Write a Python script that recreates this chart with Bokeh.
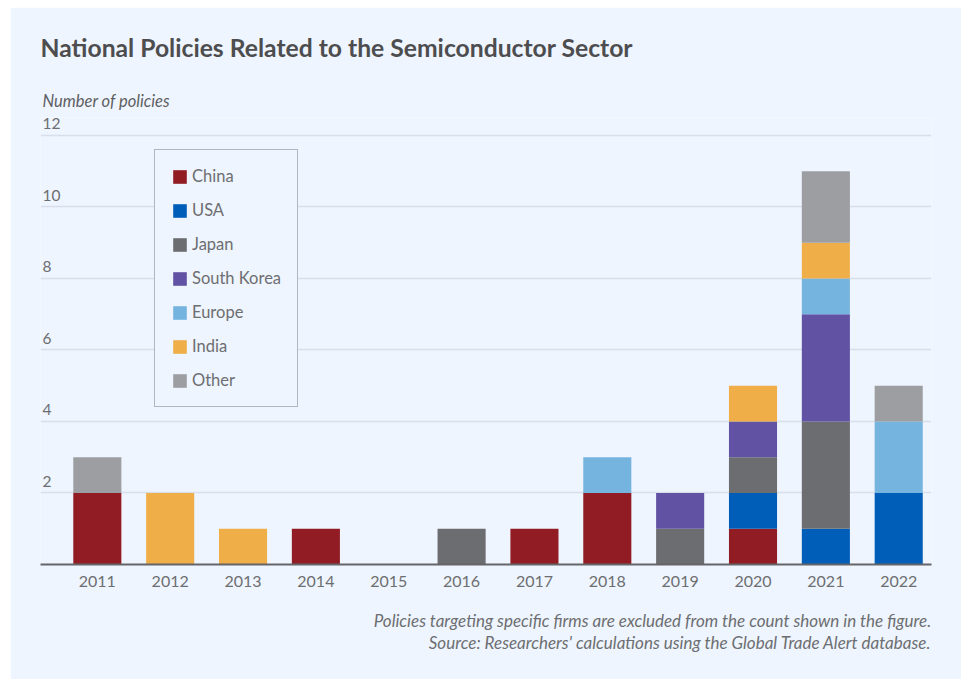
from bokeh.plotting import figure
from bokeh.models import ColumnDataSource, Legend, LegendItem, Title, FixedTicker, Range1d
from bokeh.core.properties import value
from bokeh.embed import file_html
from bokeh.resources import INLINE

years = ["2011", "2012", "2013", "2014", "2015", "2016", "2017", "2018", "2019", "2020", "2021", "2022"]
china       = [2, 0, 0, 1, 0, 0, 1, 2, 0, 1, 0, 0]
usa         = [0, 0, 0, 0, 0, 0, 0, 0, 0, 1, 1, 2]
japan       = [0, 0, 0, 0, 0, 1, 0, 0, 1, 1, 3, 0]
south_korea = [0, 0, 0, 0, 0, 0, 0, 0, 1, 1, 3, 0]
europe      = [0, 0, 0, 0, 0, 0, 0, 1, 0, 0, 1, 2]
india       = [0, 2, 1, 0, 0, 0, 0, 0, 0, 1, 1, 0]
other       = [1, 0, 0, 0, 0, 0, 0, 0, 0, 0, 2, 1]
series_names = ["China", "USA", "Japan", "South Korea", "Europe", "India", "Other"]
series_colors = ["#921c24", "#005eb8", "#6c6d70", "#6152a3", "#76b4e0", "#efae48", "#9d9ea2"]
y_ticks = [2, 4, 6, 8, 10, 12]
footer_lines = ["Policies targeting specific firms are excluded from the count shown in the figure.",
                "Source: Researchers' calculations using the Global Trade Alert database."]

FONT = "Lato"
TXT = "#6d6e71"
BG = "#eef5fe"

xs = list(range(len(years)))
source = ColumnDataSource(dict(x=xs, China=china, USA=usa, Japan=japan,
                               **{"South Korea": south_korea}, Europe=europe,
                               India=india, Other=other))

p = figure(width=951, height=672, output_backend="svg", toolbar_location=None,
           x_range=Range1d(-0.78, 11.45), y_range=Range1d(0, 12.5),
           min_border_left=30, min_border_right=30, min_border_top=110,
           min_border_bottom=115)
p.margin = (7, 0, 0, 10)
p.background_fill_color = BG
p.border_fill_color = BG
p.outline_line_color = None

renderers = p.vbar_stack(series_names, x="x", width=0.66, color=series_colors,
                         line_color=None, source=source)

# grid / axes
p.xgrid.visible = False
p.ygrid.ticker = FixedTicker(ticks=y_ticks)
p.ygrid.grid_line_color = "#d7dfeb"
p.ygrid.grid_line_width = 1.5
p.yaxis.visible = False

p.xaxis.ticker = FixedTicker(ticks=xs)
p.xaxis.major_label_overrides = {i: y for i, y in enumerate(years)}
p.xaxis.major_tick_line_color = None
p.xaxis.minor_tick_line_color = None
p.xaxis.axis_line_color = "#646569"
p.xaxis.axis_line_width = 2
p.xaxis.major_label_text_font = FONT
p.xaxis.major_label_text_font_size = "16px"
p.xaxis.major_label_text_color = TXT
p.xaxis.major_label_standoff = 5

# y tick labels sitting above gridlines
p.text(x=[-0.78] * len(y_ticks), y=y_ticks, text=[str(t) for t in y_ticks],
       text_font=value(FONT), text_font_size="15.5px", text_color=TXT,
       text_align="left", text_baseline="bottom", x_offset=2, y_offset=-6)

legend = Legend(items=[LegendItem(label=n, renderers=[r]) for n, r in zip(series_names, renderers)],
                location=(114, 157))
legend.margin = 0
legend.padding = 16
legend.spacing = 14
legend.glyph_width = 17
legend.glyph_height = 17
legend.label_height = 17
legend.label_standoff = 4
legend.label_text_font = FONT
legend.label_text_font_size = "16.5px"
legend.label_text_color = TXT
legend.border_line_color = "#77787b"
legend.border_line_width = 1.5
legend.background_fill_color = BG
legend.background_fill_alpha = 1
p.add_layout(legend, "center")

# titles above
sub = Title(text="Number of policies", text_font=FONT, text_font_style="italic",
            text_font_size="16.5px", text_color="#5f6063", align="left",
            offset=2, standoff=14)
p.add_layout(sub, "above")
main = Title(text="National Policies Related to the Semiconductor Sector", text_font=FONT,
             text_font_style="bold", text_font_size="24.7px", text_color="#4d4d4f",
             align="left", standoff=40)
p.add_layout(main, "above")

# footer: a blank spacer under the axis, then two right-aligned lines
p.add_layout(Title(text=" ", text_font=FONT, text_font_size="17px", standoff=-4.6), "below")
for line, so in zip(footer_lines, [0, -1]):
    p.add_layout(Title(text=line, text_font=FONT, text_font_style="italic",
                       text_font_size="17px", text_color=TXT, align="right",
                       standoff=so), "below")

open("out.html", "w").write(file_html(p, INLINE))
